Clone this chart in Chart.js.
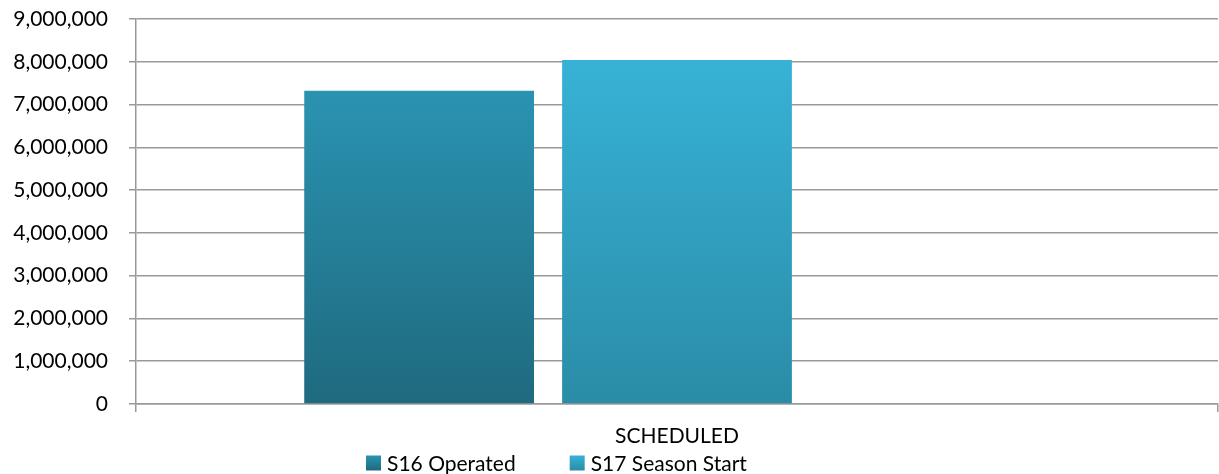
<!DOCTYPE html>
<html><head><meta charset="utf-8">
<script src="https://cdn.jsdelivr.net/npm/chart.js@4.4.0/dist/chart.umd.min.js"></script>
<style>html,body{margin:0;padding:0;background:#fff;overflow:hidden}#wrap{position:relative;width:1219px;height:474px}</style>
</head><body><div id="wrap"><canvas id="c" width="1219" height="474"></canvas></div>
<script>
const categories = ['SCHEDULED'];
const seriesNames = ['S16 Operated', 'S17 Season Start'];
const s16Operated = [7320000];
const s17SeasonStart = [8040000];
const emptySeries = [null];
const yMin = 0, yMax = 9000000, yStep = 1000000;

const FONT = 'Lato, "Open Sans", sans-serif';
const colS16 = ['#2A93B1', '#1F6A7E'];
const colS17 = ['#37B2D6', '#2A8CA7'];

function grad(top, bottom) {
  return (ctx) => {
    const ch = ctx.chart, a = ch.chartArea;
    if (!a || ctx.raw == null) return top;
    const y0 = ch.scales.y.getPixelForValue(ctx.raw);
    const g = ch.ctx.createLinearGradient(0, y0, 0, a.bottom);
    g.addColorStop(0, top); g.addColorStop(1, bottom);
    return g;
  };
}

const legendPlugin = {
  id: 'customLegend',
  afterDraw(chart) {
    const c = chart.ctx;
    c.save();
    c.font = '21px ' + FONT;
    c.textBaseline = 'middle';
    const cols = [colS16, colS17];
    let x = 366; const yc = 463, box = 15;
    seriesNames.forEach((name, i) => {
      const g = c.createLinearGradient(0, yc - box/2, 0, yc + box/2);
      g.addColorStop(0, cols[i][0]); g.addColorStop(1, cols[i][1]);
      c.fillStyle = g;
      c.fillRect(x, yc - box/2, box, box);
      c.fillStyle = '#000';
      c.fillText(name, x + box + 6, yc + 1);
      x += box + 6 + c.measureText(name).width + 54;
    });
    c.restore();
  }
};

new Chart(document.getElementById('c'), {
  type: 'bar',
  data: {
    labels: categories,
    datasets: [
      { label: seriesNames[0], data: s16Operated, backgroundColor: grad(colS16[0], colS16[1]) },
      { label: seriesNames[1], data: s17SeasonStart, backgroundColor: grad(colS17[0], colS17[1]) },
      { label: '', data: emptySeries, backgroundColor: '#000' }
    ]
  },
  options: {
    responsive: false,
    animation: false,
    layout: { padding: { top: 19, right: 1, left: 0, bottom: 0 } },
    plugins: { legend: { display: false }, tooltip: { enabled: false } },
    datasets: { bar: { categoryPercentage: 0.715, barPercentage: 0.891 } },
    scales: {
      x: {
        offset: true,
        grid: { offset: true, drawOnChartArea: false, drawTicks: true, tickLength: 8, color: '#999', lineWidth: 1.5 },
        border: { color: '#999', width: 1.5 },
        ticks: { font: { family: FONT, size: 21 }, color: '#000', padding: 12, maxRotation: 0 },
        afterFit: (s) => { s.height = 70; s.paddingLeft = 0; s.paddingRight = 0; }
      },
      y: {
        min: yMin, max: yMax,
        grid: { color: '#999', lineWidth: 1.5, tickLength: 7 },
        border: { color: '#999', width: 1.5 },
        ticks: { stepSize: yStep, font: { family: FONT, size: 21 }, color: '#000', padding: 21,
          callback: (v) => Number(v).toLocaleString('en-US') },
        afterFit: (s) => { s.width = 136; s.paddingTop = 0; s.paddingBottom = 0; }
      }
    }
  },
  plugins: [legendPlugin]
});
</script></body></html>
